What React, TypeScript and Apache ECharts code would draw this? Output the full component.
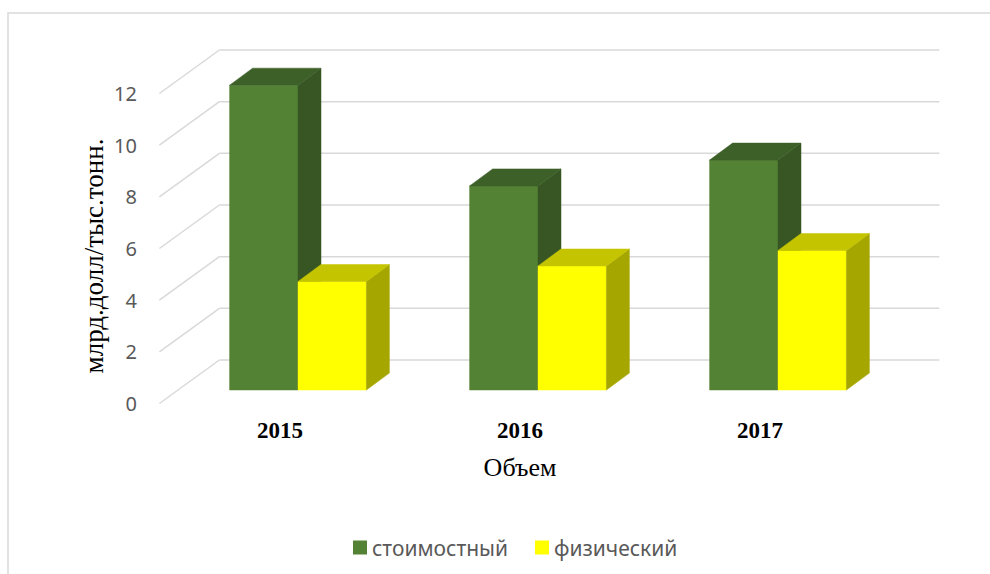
import React, { useEffect, useRef } from "react";
import * as echarts from "echarts";

const categories = ["2015", "2016", "2017"];
const costValues = [11.8, 7.9, 8.9];
const physicalValues = [4.2, 4.8, 5.4];
const yTicks = [0, 2, 4, 6, 8, 10, 12];
const seriesNames = ["стоимостный", "физический"];
const yAxisTitle = "млрд.долл/тыс.тонн.";
const xAxisTitle = "Объем";

// oblique projection helpers (pixels)
const K = 1.38; // dx per -dy
const BAR_DY = -17;
const BAR_DX = 23;
const BACK_DY = -30;
const FRONT_DY = 13.5;

const greenFaces = { front: "#548235", side: "#375623", top: "#3d5f28" };
const yellowFaces = { front: "#ffff00", side: "#a6a600", top: "#c4c400" };

function barRenderer(idx: number, c: { front: string; side: string; top: string }) {
  return (params: any, api: any) => {
    const cat = api.value(0);
    const val = api.value(1);
    const top = api.coord([cat, val]);
    const base = api.coord([cat, 0]);
    const band = api.size([1, 0])[0];
    const w = band * 0.285;
    const x0 = idx === 0 ? top[0] - w : top[0];
    const x1 = x0 + w;
    const yT = top[1];
    const yB = base[1];
    return {
      type: "group",
      children: [
        {
          type: "rect",
          shape: { x: x0, y: yT, width: w, height: yB - yT },
          style: { fill: c.front, stroke: c.front, lineWidth: 0.5 },
        },
        {
          type: "polygon",
          shape: {
            points: [
              [x1, yT],
              [x1 + BAR_DX, yT + BAR_DY],
              [x1 + BAR_DX, yB + BAR_DY],
              [x1, yB],
            ],
          },
          style: { fill: c.side, stroke: c.side, lineWidth: 0.5 },
        },
        {
          type: "polygon",
          shape: {
            points: [
              [x0, yT],
              [x0 + BAR_DX, yT + BAR_DY],
              [x1 + BAR_DX, yT + BAR_DY],
              [x1, yT],
            ],
          },
          style: { fill: c.top, stroke: c.top, lineWidth: 0.5 },
        },
      ],
    };
  };
}

function gridRenderer(params: any, api: any) {
  const v = api.value(1);
  const cs = params.coordSys;
  const p = api.coord([0, v]);
  const y = p[1];
  const backX = cs.x - BACK_DY * K;
  const frontX = cs.x - FRONT_DY * K;
  const style = { stroke: "#d9d9d9", lineWidth: 1.5 };
  return {
    type: "group",
    children: [
      {
        type: "line",
        shape: { x1: backX, y1: y + BACK_DY, x2: backX + cs.width, y2: y + BACK_DY },
        style,
      },
      {
        type: "line",
        shape: { x1: frontX, y1: y + FRONT_DY, x2: backX, y2: y + BACK_DY },
        style,
      },
    ],
  };
}

export default function App() {
  const ref = useRef<HTMLDivElement>(null);
  useEffect(() => {
    document.body.style.margin = "0";
    if (!ref.current) return;
    const chart = echarts.init(ref.current, undefined, { renderer: "svg" });
    const option: any = {
      animation: false,
      backgroundColor: "#ffffff",
      grid: [
        { left: 178, top: 80, width: 720, height: 310 },
        { left: 160, top: 93.5, width: 720, height: 310 },
      ],
      xAxis: [
        { gridIndex: 0, type: "category", data: categories, show: false },
        {
          gridIndex: 1,
          type: "category",
          data: categories,
          axisLine: { show: false },
          axisTick: { show: false },
          axisLabel: {
            margin: 15,
            fontFamily: "Liberation Serif",
            fontWeight: "bold",
            fontSize: 23,
            color: "#000000",
          },
          name: xAxisTitle,
          nameLocation: "middle",
          nameGap: 51,
          nameTextStyle: { fontFamily: "Liberation Serif", fontSize: 26, color: "#000000" },
        },
      ],
      yAxis: [
        { gridIndex: 0, type: "value", min: 0, max: 12, interval: 2, show: false },
        {
          gridIndex: 1,
          type: "value",
          min: 0,
          max: 12,
          interval: 2,
          axisLine: { show: false },
          axisTick: { show: false },
          splitLine: { show: false },
          axisLabel: { margin: 23, fontFamily: "Noto Sans", fontSize: 20, color: "#595959" },
        },
      ],
      legend: {
        data: seriesNames,
        left: 348,
        top: 532,
        icon: "rect",
        itemWidth: 14,
        itemHeight: 14,
        itemGap: 27,
        textStyle: { fontFamily: "Noto Sans", fontSize: 21, color: "#595959" },
      },
      graphic: [
        {
          type: "rect",
          shape: { x: 8, y: 13, width: 1100, height: 700 },
          style: { fill: "none", stroke: "#d9d9d9", lineWidth: 1.5 },
          silent: true,
          z: -10,
        },
        {
          type: "text",
          x: 94,
          y: 256,
          rotation: Math.PI / 2,
          style: {
            text: yAxisTitle,
            fontFamily: "Liberation Serif",
            fontSize: 27,
            fill: "#000000",
            align: "center",
            verticalAlign: "middle",
          },
        },
      ],
      series: [
        {
          type: "custom",
          name: "grid",
          xAxisIndex: 0,
          yAxisIndex: 0,
          silent: true,
          z: 1,
          data: yTicks.map((v) => [0, v]),
          renderItem: gridRenderer,
        },
        {
          type: "custom",
          name: seriesNames[0],
          xAxisIndex: 0,
          yAxisIndex: 0,
          z: 2,
          itemStyle: { color: greenFaces.front },
          data: costValues.map((v, i) => [i, v]),
          encode: { x: 0, y: 1 },
          renderItem: barRenderer(0, greenFaces),
        },
        {
          type: "custom",
          name: seriesNames[1],
          xAxisIndex: 0,
          yAxisIndex: 0,
          z: 3,
          itemStyle: { color: yellowFaces.front },
          data: physicalValues.map((v, i) => [i, v]),
          encode: { x: 0, y: 1 },
          renderItem: barRenderer(1, yellowFaces),
        },
      ],
    };
    chart.setOption(option);
    return () => chart.dispose();
  }, []);
  return <div ref={ref} style={{ width: 990, height: 574 }} />;
}
